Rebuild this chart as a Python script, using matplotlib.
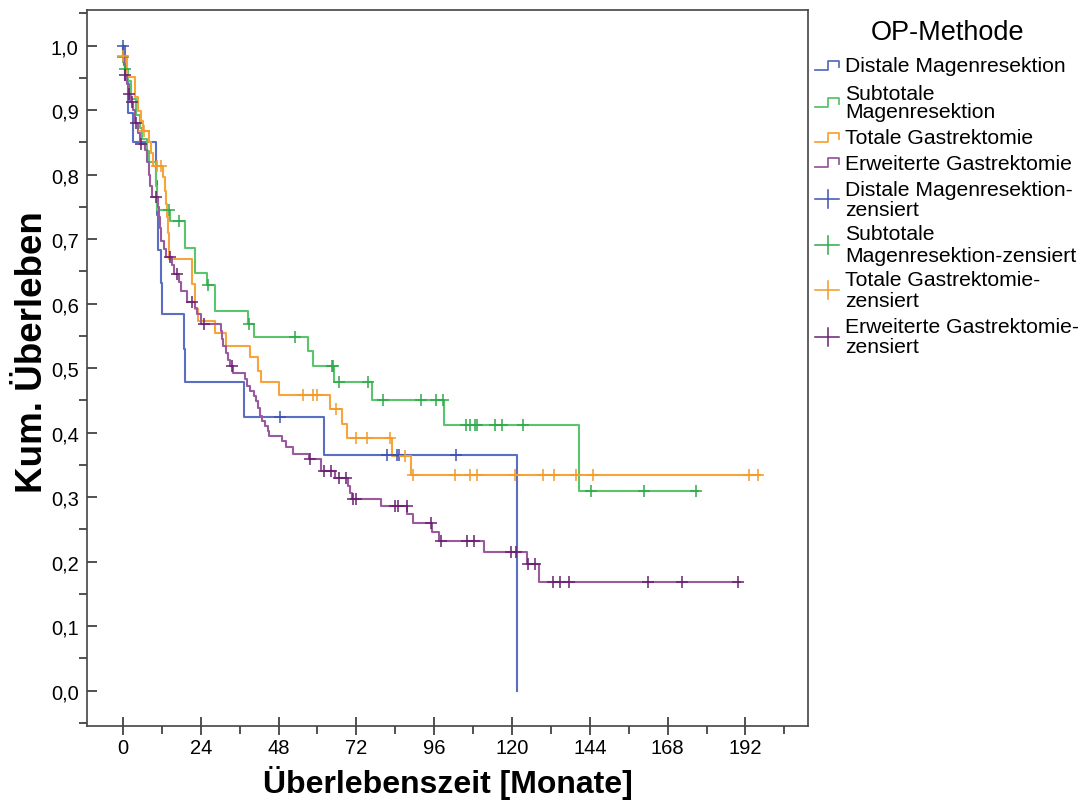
import numpy as np
import matplotlib
matplotlib.use('Agg')
import matplotlib.pyplot as plt
from matplotlib.lines import Line2D
from matplotlib import font_manager

# ---------------- data ----------------
groups = ["Distale Magenresektion", "Subtotale\nMagenresektion",
          "Totale Gastrektomie", "Erweiterte Gastrektomie"]
censor_labels = ["Distale Magenresektion-\nzensiert", "Subtotale\nMagenresektion-zensiert",
                 "Totale Gastrektomie-\nzensiert", "Erweiterte Gastrektomie-\nzensiert"]

# Distale Magenresektion
dist_t = [0.5, 1.5, 3.0, 10.3, 10.5, 10.8, 11.6, 11.9, 18.8, 19.2, 37.2, 62.0, 121.5]
dist_s = [0.947, 0.895, 0.850, 0.790, 0.737, 0.684, 0.632, 0.584, 0.530, 0.478, 0.425, 0.365, 0.0]
dist_c = [0.1, 48.4, 81.5, 84.6, 85.1, 102.7]
dist_end = 121.5

# Subtotale Magenresektion
sub_t = [0.0, 0.6, 1.5, 2.4, 3.9, 5.2, 5.8, 7.3, 8.1, 10.3, 10.6, 14.4, 19.0, 22.1, 26.0,
         28.3, 38.5, 40.3, 57.1, 58.5, 65.1, 76.7, 99.1, 140.6]
sub_s = [0.982, 0.964, 0.946, 0.917, 0.892, 0.873, 0.855, 0.837, 0.820, 0.782, 0.746, 0.728,
         0.687, 0.648, 0.629, 0.588, 0.568, 0.548, 0.527, 0.504, 0.478, 0.450, 0.412, 0.310]
sub_c = [0.1, 0.7, 14.2, 17.3, 26.3, 38.8, 53.1, 64.6, 64.9, 66.7, 75.6, 80.1, 92.0, 96.5,
         98.7, 105.7, 107.0, 108.5, 109.3, 114.7, 117.0, 123.5, 144.3, 160.7, 176.7]
sub_end = 177.3

# Totale Gastrektomie
tot_t = [0.0, 1.2, 3.8, 4.6, 5.7, 6.2, 8.0, 8.6, 9.3, 12.3, 13.0, 13.3, 13.6, 13.9, 14.1,
         14.3, 21.2, 22.1, 23.1, 28.3, 31.9, 39.1, 41.7, 42.7, 48.1, 63.8, 67.6, 69.2, 82.9, 88.8]
tot_s = [0.984, 0.951, 0.920, 0.899, 0.884, 0.868, 0.850, 0.834, 0.814, 0.796, 0.775, 0.755,
         0.735, 0.710, 0.690, 0.669, 0.630, 0.591, 0.573, 0.555, 0.535, 0.517, 0.496, 0.478,
         0.459, 0.437, 0.413, 0.391, 0.364, 0.334]
tot_c = [0.1, 6.4, 10.5, 11.8, 55.4, 58.6, 59.9, 65.8, 72.0, 75.3, 82.5, 87.1, 89.5, 102.3,
         107.0, 109.2, 120.9, 129.5, 133.0, 139.6, 145.0, 193.2, 196.0]
tot_end = 196.5

# Erweiterte Gastrektomie
erw_t = [0.0, 0.3, 0.6, 1.2, 1.8, 2.3, 3.2, 3.6, 4.5, 5.2, 6.8, 7.5, 8.0, 8.4, 8.8, 10.8,
         11.0, 11.3, 11.8, 12.5, 13.2, 15.0, 15.6, 17.3, 18.0, 19.6, 22.1, 22.9, 24.2, 30.1,
         30.6, 31.0, 31.8, 32.3, 33.0, 34.0, 37.6, 38.3, 39.3, 40.3, 41.0, 41.7, 42.2, 43.0,
         43.7, 44.6, 45.1, 48.9, 50.4, 52.5, 57.3, 61.2, 65.3, 69.4, 70.0, 70.5, 79.5, 87.7,
         89.5, 95.2, 97.5, 111.4, 124.7, 128.4]
erw_s = [0.985, 0.970, 0.955, 0.940, 0.925, 0.912, 0.900, 0.880, 0.865, 0.848, 0.838, 0.820,
         0.800, 0.783, 0.765, 0.750, 0.735, 0.718, 0.697, 0.685, 0.672, 0.660, 0.646, 0.633,
         0.620, 0.602, 0.593, 0.584, 0.568, 0.558, 0.545, 0.535, 0.523, 0.512, 0.503, 0.493,
         0.483, 0.473, 0.465, 0.457, 0.449, 0.438, 0.426, 0.418, 0.410, 0.402, 0.395, 0.387,
         0.377, 0.367, 0.359, 0.340, 0.330, 0.317, 0.307, 0.297, 0.286, 0.2735, 0.260, 0.246,
         0.232, 0.2156, 0.197, 0.1685]
erw_c = [0.7, 2.0, 2.9, 3.9, 5.6, 10.3, 14.6, 16.7, 21.4, 24.9, 33.6, 57.8, 61.9, 64.3, 66.7,
         68.7, 71.0, 71.8, 83.9, 84.7, 87.5, 94.9, 98.0, 106.0, 108.2, 119.8, 121.2, 125.0,
         127.1, 132.5, 134.8, 137.6, 161.8, 172.3, 189.6]
erw_end = 190.3

x_ticks = [0, 24, 48, 72, 96, 120, 144, 168, 192]
y_ticks = [0.0, 0.1, 0.2, 0.3, 0.4, 0.5, 0.6, 0.7, 0.8, 0.9, 1.0]
y_ticklabels = ["0,0", "0,1", "0,2", "0,3", "0,4", "0,5", "0,6", "0,7", "0,8", "0,9", "1,0"]

legend_title = "OP-Methode"
x_label = "Überlebenszeit [Monate]"
y_label = "Kum. Überleben"

line_colors = ['#5b6fc2', '#5cc46c', '#f8a43c', '#9a5a9e']
mark_colors = ['#3c52b0', '#2eaa4a', '#f39a28', '#6a2070']

# ---------------- fonts ----------------
def has_font(name):
    try:
        font_manager.findfont(font_manager.FontProperties(family=name), fallback_to_default=False)
        return True
    except Exception:
        return False

NARROW = has_font('Liberation Sans Narrow')
tick_font = 'Liberation Sans Narrow' if NARROW else 'Liberation Sans'
tick_size = 17 if NARROW else 14.5

plt.rcParams['font.family'] = ['Liberation Sans', 'DejaVu Sans']

W, H = 1086, 804
fig = plt.figure(figsize=(W / 100, H / 100), dpi=100)
fig.patch.set_facecolor('white')
ax = fig.add_axes([87 / W, 1 - 727 / H, (808 - 87) / W, (727 - 11) / H])

series = [(dist_t, dist_s, dist_c, dist_end), (sub_t, sub_s, sub_c, sub_end),
          (tot_t, tot_s, tot_c, tot_end), (erw_t, erw_s, erw_c, erw_end)]

for i, (t, s, c, end) in enumerate(series):
    t = np.asarray(t, float)
    s = np.asarray(s, float)
    tt = np.concatenate([[0.0], t, [end]])
    ss = np.concatenate([[1.0], s, [s[-1]]])
    ax.plot(tt, ss, drawstyle='steps-post', color=line_colors[i], lw=1.5, zorder=2 + i * 0.1)

for i, (t, s, c, end) in enumerate(series):
    t = np.asarray(t, float)
    s = np.asarray(s, float)
    c = np.asarray(c, float)
    idx = np.searchsorted(t, c, side='right') - 1
    cy = np.where(idx >= 0, s[np.clip(idx, 0, None)], 1.0)
    ax.plot(c, cy, ls='none', marker='+', ms=9, mew=1.1, color=mark_colors[i], zorder=4)

ax.set_xlim(-11.1, 211.3)
ax.set_ylim(-0.0549, 1.0554)
ax.set_xticks(x_ticks)
ax.set_xticks(np.arange(12, 211, 24), minor=True)
ax.set_yticks(y_ticks)
ax.set_yticklabels(y_ticklabels)
ax.set_yticks(np.arange(-0.05, 1.06, 0.1), minor=True)

ax.tick_params(axis='x', which='major', direction='inout', length=13, width=1.2,
               color='#333333', pad=2, labelsize=tick_size)
ax.tick_params(axis='x', which='minor', direction='out', length=6, width=1.2, color='#333333')
ax.tick_params(axis='y', which='major', direction='in', length=7, width=1.2,
               color='#333333', pad=6, labelsize=tick_size)
ax.tick_params(axis='y', which='minor', direction='out', length=6, width=1.2, color='#333333')
for lab in ax.get_xticklabels() + ax.get_yticklabels():
    lab.set_family(tick_font)

for sp in ax.spines.values():
    sp.set_color('#444444')
    sp.set_linewidth(1.2)

ax.set_xlabel(x_label, fontsize=23, fontweight='bold', labelpad=6)
ax.set_ylabel(y_label, fontsize=26.5, fontweight='bold')
ax.yaxis.set_label_coords(-0.052, 0.524)

# ---------------- legend (drawn by hand) ----------------
def fx(x):
    return x / W

def fy(y):
    return 1 - y / H

fig.text(fx(948), fy(33), legend_title, fontsize=19.5, ha='center', va='center')

line_rows = [(67, [67]), (103.5, [94, 113]), (139, [139]), (164, [164])]
cens_rows = [(200, [191, 210]), (246, [235, 257]), (291, [281, 302]), (338, [328, 348])]

for i, (yc, ys) in enumerate(line_rows):
    xs = [815, 828, 828, 839, 839]
    yy = [yc + 4, yc + 4, yc - 5, yc - 5, yc + 1]
    fig.add_artist(Line2D([fx(v) for v in xs], [fy(v) for v in yy],
                          color=line_colors[i], lw=1.3))
    for ln, yl in zip(groups[i].split('\n'), ys):
        fig.text(fx(845), fy(yl), ln, fontsize=15.2, ha='left', va='center')

for i, (yc, ys) in enumerate(cens_rows):
    fig.add_artist(Line2D([fx(815), fx(839)], [fy(yc), fy(yc)], color=mark_colors[i], lw=1.1))
    fig.add_artist(Line2D([fx(828), fx(828)], [fy(yc - 9), fy(yc + 9)], color=mark_colors[i], lw=1.1))
    for ln, yl in zip(censor_labels[i].split('\n'), ys):
        fig.text(fx(845), fy(yl), ln, fontsize=15.2, ha='left', va='center')

fig.savefig('out.png', dpi=100, facecolor='white')
